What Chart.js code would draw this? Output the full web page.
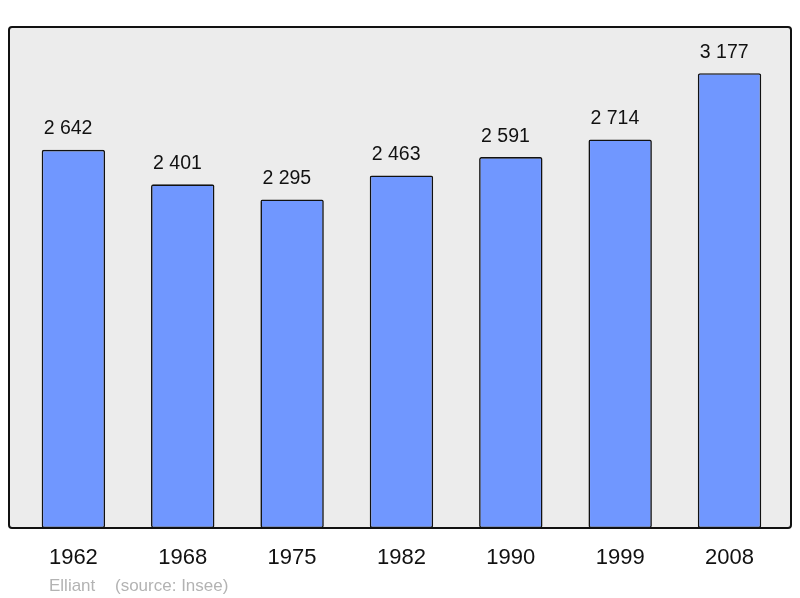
<!DOCTYPE html>
<html>
<head>
<meta charset="utf-8">
<script src="https://cdn.jsdelivr.net/npm/chart.js@4"></script>
<style>
  html, body { margin: 0; padding: 0; background: #fff; }
  canvas { display: block; }
</style>
</head>
<body>
<canvas id="popChart" width="800" height="598"></canvas>
<script>
const years = ['1962', '1968', '1975', '1982', '1990', '1999', '2008'];
const population = [2642, 2401, 2295, 2463, 2591, 2714, 3177];
const footerAuthor = 'Elliant';
const footerSource = '(source: Insee)';

// "2642" -> "2 642"
function fmt(v) {
  return String(v).replace(/\B(?=(\d{3})+(?!\d))/g, ' ');
}

const framePlugin = {
  id: 'frame',
  beforeDraw(chart) {
    const ctx = chart.ctx;
    const a = chart.chartArea;
    ctx.save();
    ctx.beginPath();
    ctx.roundRect(9, a.top, 791 - 9, a.bottom - a.top, 3);
    ctx.fillStyle = '#ececec';
    ctx.fill();
    ctx.restore();
  },
  afterDatasetsDraw(chart) {
    const ctx = chart.ctx;
    const a = chart.chartArea;
    ctx.save();
    ctx.beginPath();
    ctx.roundRect(9, a.top, 791 - 9, a.bottom - a.top, 3);
    ctx.lineWidth = 2;
    ctx.strokeStyle = '#111';
    ctx.stroke();

    // value labels above bars, starting near the bar's left edge
    ctx.font = '19.5px "Liberation Sans", Arial, sans-serif';
    ctx.fillStyle = '#111';
    ctx.textAlign = 'left';
    ctx.textBaseline = 'alphabetic';
    chart.getDatasetMeta(0).data.forEach((bar, i) => {
      ctx.fillText(fmt(population[i]), bar.x - bar.width / 2 + 2, bar.y - 15.5);
    });

    // footer
    ctx.font = '17px "Liberation Sans", Arial, sans-serif';
    ctx.fillStyle = '#b3b3b3';
    ctx.fillText(footerAuthor, 49, 591);
    ctx.fillText(footerSource, 115, 591);
    ctx.restore();
  }
};

new Chart(document.getElementById('popChart'), {
  type: 'bar',
  data: {
    labels: years,
    datasets: [{
      data: population,
      backgroundColor: '#7097ff',
      borderColor: '#111',
      borderWidth: 1.6,
      borderRadius: 2,
      borderSkipped: false,
      barPercentage: 0.58,
      categoryPercentage: 1
    }]
  },
  options: {
    responsive: false,
    animation: false,
    layout: { padding: { left: 18.7, right: 15.8, top: 27, bottom: 0 } },
    plugins: { legend: { display: false }, tooltip: { enabled: false } },
    scales: {
      y: { display: false, min: 0, max: 3500 },
      x: {
        grid: { display: false, drawTicks: false },
        border: { display: false },
        ticks: {
          color: '#111',
          padding: 17,
          font: { family: '"Liberation Sans", Arial, sans-serif', size: 22 }
        },
        afterFit(scale) { scale.height = 70; }
      }
    }
  },
  plugins: [framePlugin]
});
</script>
</body>
</html>
